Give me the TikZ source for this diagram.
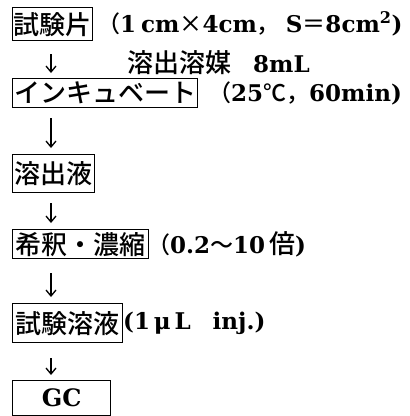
\documentclass[tikz,border=0pt]{standalone}
\usepackage{fontspec}
\setmainfont{DejaVu Serif}
\newfontfamily\jp{Noto Sans CJK JP}[BoldFont={Noto Sans CJK JP Medium}]
\usetikzlibrary{arrows.meta}
\begin{document}
\begin{tikzpicture}[x=1pt,y=-1pt,
  box/.style={draw, line width=1.4pt, anchor=north west, inner sep=0pt,
    font=\jp\bfseries\fontsize{26}{26}\selectfont, align=center},
  lbl/.style={anchor=west, inner sep=0pt, font=\bfseries\fontsize{23}{24}\selectfont},
  flow/.style={line width=1.3pt, -{Straight Barb[length=6pt,width=10pt]}}]
\useasboundingbox[fill=white] (0,0) rectangle (410,416);
\coordinate (col) at (51,0);
% boxes
\node[box, minimum width=80pt,  minimum height=33pt] (b1) at (12,7)   {試験片};
\node[box, minimum width=185pt, minimum height=29pt] (b2) at (12,78)  {インキュベート};
\node[box, minimum width=82pt,  minimum height=38pt] (b3) at (12,154) {溶出液};
\node[box, minimum width=136pt, minimum height=29pt] (b4) at (12,229) {希釈・濃縮};
\node[box, minimum width=110pt, minimum height=39pt] (b5) at (12,303) {試験溶液};
\node[box, minimum width=98pt,  minimum height=35pt, font=\bfseries\fontsize{24}{24}\selectfont] (b6) at (12,380) {GC};
% labels
\node[lbl] (t1) at (97,24) {{\jp （}1\hspace{5pt}cm{\jp ×}4cm{\jp ，}\hspace{6pt}S{\jp ＝}8cm\textsuperscript{2})};
\node[lbl] (t2) at (127,63) {{\jp\bfseries\fontsize{26}{26}\selectfont 溶出溶媒}\hspace{22pt}8mL};
\node[lbl] (t3) at (208,93) {{\jp （}25{\jp ℃，}60min)};
\node[lbl] (t4) at (147,244) {{\jp （}0.2{\jp 〜}10\hspace{4pt}{\jp\bfseries\fontsize{26}{26}\selectfont 倍})};
\node[lbl] (t5) at (123,323) {(1\,μ\,L\hspace{22pt}inj.)};
% arrows
\draw[flow, shorten <=13pt, shorten >=5pt] (b1.south -| col) -- (b2.north -| col);
\draw[flow, shorten <=10pt, shorten >=6pt] (b2.south -| col) -- (b3.north -| col);
\draw[flow, shorten <=10pt, shorten >=6pt] (b3.south -| col) -- (b4.north -| col);
\draw[flow, shorten <=14pt, shorten >=6pt] (b4.south -| col) -- (b5.north -| col);
\draw[flow, shorten <=15pt, shorten >=5pt] (b5.south -| col) -- (b6.north -| col);
\end{tikzpicture}
\end{document}
